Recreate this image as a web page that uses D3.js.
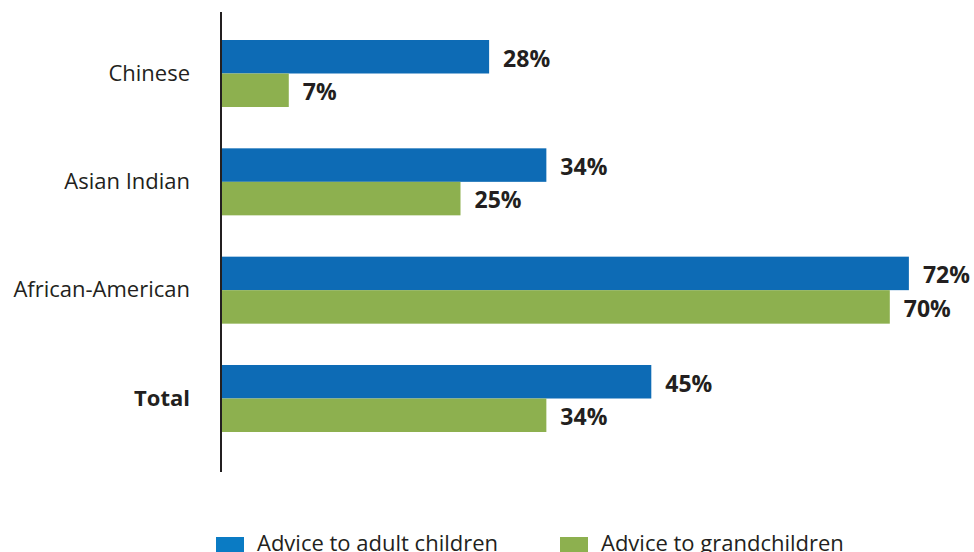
<!DOCTYPE html>
<html>
<head>
<meta charset="utf-8">
<script src="https://cdn.jsdelivr.net/npm/d3@7"></script>
<style>
  html, body { margin: 0; padding: 0; background: #fff; }
  svg { display: block; font-family: "Open Sans", "Noto Sans", sans-serif; }
</style>
</head>
<body>
<svg id="chart" width="974" height="552"></svg>
<script>
// Share of respondents giving advice, by group
const categories = ["Chinese", "Asian Indian", "African-American", "Total"];
const seriesNames = ["Advice to adult children", "Advice to grandchildren"];
const adultChildren = [28, 34, 72, 45];
const grandchildren = [7, 25, 70, 34];

const barColors = ["#0D6BB5", "#8DB04F"];
const legendColors = ["#0A7BC4", "#8DB04F"];
const textColor = "#231F20";

const svg = d3.select("#chart");

const x = d3.scaleLinear().domain([0, 100]).range([222, 1176]);
const y = d3.scaleBand().domain(categories).range([40, 432]).paddingInner(0.3815).paddingOuter(0);
const ySub = d3.scaleBand().domain([0, 1]).range([0, y.bandwidth()]);

const rows = categories.map((c, i) => ({ cat: c, values: [adultChildren[i], grandchildren[i]] }));

const groups = svg.selectAll("g.grp").data(rows).join("g")
  .attr("class", "grp")
  .attr("transform", d => `translate(0,${y(d.cat)})`);

groups.selectAll("rect").data(d => d.values.map((v, k) => ({ v, k }))).join("rect")
  .attr("x", x(0))
  .attr("y", d => ySub(d.k))
  .attr("width", d => x(d.v) - x(0))
  .attr("height", ySub.bandwidth())
  .attr("fill", d => barColors[d.k]);

groups.selectAll("text.val").data(d => d.values.map((v, k) => ({ v, k }))).join("text")
  .attr("class", "val")
  .attr("x", d => x(d.v) + 14)
  .attr("y", d => ySub(d.k) + ySub.bandwidth() / 2 + 1.5)
  .attr("dy", "0.36em")
  .attr("font-size", 23)
  .attr("font-weight", 700)
  .attr("fill", textColor)
  .text(d => d.v + "%");

// Category labels on the left of the axis
const yAxis = d3.axisLeft(y).tickSize(0).tickPadding(32);
const axisG = svg.append("g").attr("transform", `translate(${x(0)},0)`).call(yAxis);
axisG.select(".domain").remove();
axisG.selectAll("text")
  .attr("font-size", 22)
  .attr("font-family", "\"Open Sans\", \"Noto Sans\", sans-serif")
  .attr("fill", textColor)
  .attr("font-weight", d => d === "Total" ? 700 : 400);

// Vertical baseline
svg.append("line")
  .attr("x1", 221).attr("x2", 221)
  .attr("y1", 12).attr("y2", 472)
  .attr("stroke", textColor).attr("stroke-width", 2);

// Legend
const legendX = [216, 560];
const legend = svg.selectAll("g.leg").data(seriesNames).join("g")
  .attr("class", "leg")
  .attr("transform", (d, i) => `translate(${legendX[i]},537)`);
legend.append("rect").attr("width", 28).attr("height", 28)
  .attr("fill", (d, i) => legendColors[i]);
legend.append("text")
  .attr("x", 41).attr("y", 14)
  .attr("font-size", 22)
  .attr("fill", textColor)
  .text(d => d);
</script>
</body>
</html>
